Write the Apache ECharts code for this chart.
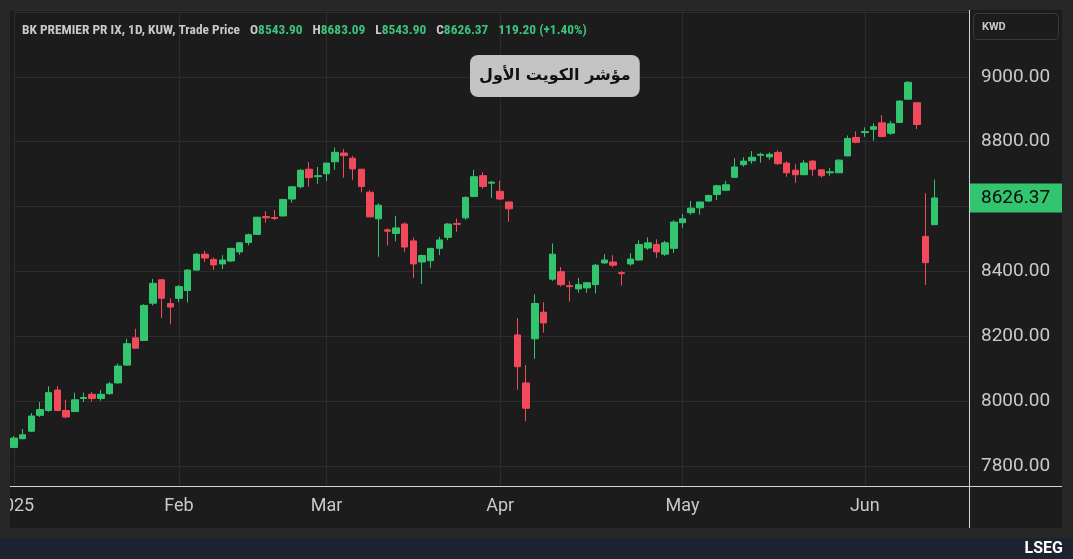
<!DOCTYPE html>
<html><head><meta charset="utf-8">
<script src="https://cdn.jsdelivr.net/npm/echarts@6/dist/echarts.min.js"></script>
<style>html,body{margin:0;padding:0;background:#272727;}#c{width:1073px;height:559px;}</style>
</head><body><div id="c"></div>
<script>
// ---- data ----
const opens  = [7857,7884,7907,7956,7971,8034,7971,7968,8008,8021,8008,8023,8056,8111,8195,8187,8302,8374,8301,
  8317,8341,8404,8453,8437,8423,8432,8460,8489,8514,8569,8566,8571,8623,8661,8715,8692,
  8701,8738,8765,8749,8715,8644,8562,8528,8517,8546,8494,8429,8433,8471,8505,8548,8565,8631,8695,8672,
  8647,8614,8204,8056,8192,8274,8376,8399,8356,8346,8349,8359,8426,8429,8396,8423,8435,8472,8483,8453,8471,
  8550,8581,8596,8617,8637,8650,8690,8729,8741,8758,8753,8767,8734,8712,8698,8740,8713,8704,8704,8756,8813,
  8828,8838,8858,8826,8859,8931,8920,8508,8543.90];
const closes = [7886,7896,7954,7974,8026,7971,7951,8004,8011,8008,8021,8053,8108,8177,8163,8295,8363,8317,8290,
  8353,8404,8453,8441,8420,8435,8471,8488,8513,8567,8565,8563,8622,8661,8712,8689,8695,
  8734,8767,8757,8716,8662,8568,8604,8524,8534,8475,8423,8449,8471,8497,8546,8545,8628,8692,8662,8675,
  8623,8593,8106,7978,8301,8241,8453,8359,8353,8359,8365,8419,8435,8419,8393,8438,8483,8488,8460,8488,8552,
  8562,8595,8614,8634,8664,8667,8722,8740,8752,8761,8761,8732,8704,8698,8734,8715,8695,8707,8743,8810,8798,
  8831,8846,8816,8855,8925,8983,8853,8427,8626.37];
const lows   = [7855,7882,7905,7951,7967,7969,7947,7966,7997,7999,8001,8020,8054,8109,8161,8185,8295,8256,8237,
  8305,8304,8402,8429,8404,8407,8429,8451,8480,8512,8550,8558,8569,8612,8656,8661,8670,
  8679,8713,8689,8682,8644,8568,8445,8480,8493,8460,8380,8361,8411,8450,8496,8522,8559,8631,8655,8626,
  8620,8553,8035,7938,8130,8211,8371,8353,8307,8334,8334,8332,8423,8413,8356,8417,8433,8466,8441,8448,8457,
  8534,8575,8575,8614,8620,8650,8690,8723,8732,8735,8744,8729,8692,8673,8698,8695,8689,8695,8704,8756,8795,
  8815,8803,8813,8821,8859,8931,8839,8358,8543.90];
const highs  = [7892,7914,7963,7997,8046,8046,8004,8026,8026,8028,8034,8059,8116,8192,8223,8299,8377,8377,8317,
  8358,8407,8456,8463,8443,8450,8472,8490,8517,8568,8586,8589,8623,8661,8715,8737,8722,
  8734,8782,8777,8756,8715,8650,8610,8533,8571,8551,8504,8452,8472,8507,8549,8563,8632,8713,8706,8679,
  8679,8616,8256,8111,8329,8305,8486,8413,8370,8380,8367,8423,8453,8450,8401,8456,8496,8505,8499,8494,8558,
  8577,8617,8614,8637,8667,8679,8749,8752,8771,8766,8767,8773,8739,8731,8743,8743,8713,8719,8746,8819,8832,
  8844,8856,8882,8864,8928,8987,8920,8641,8683.09];
const monthLabels   = ['2025','Feb','Mar','Apr','May','Jun'];
const monthStartIdx = [0,19,36,56,77,98];
const yTickValues   = [7800,8000,8200,8400,8600,8800,9000];
const headerName    = 'BK PREMIER PR IX, 1D, KUW, Trade Price';
const headerChange  = '119.20 (+1.40%)';
const chartTitle    = 'مؤشر الكويت الأول';
const currency      = 'KWD';
const emptySlots    = 4;

// ---- build ----
const n = opens.length;
const last = n - 1;
const categories = [];
for (let i = 0; i < n + emptySlots; i++) categories.push(String(i));
const candleData = opens.map((o, i) => [o, closes[i], lows[i], highs[i]]);
const monthMap = {};
monthStartIdx.forEach((idx, k) => { monthMap[idx] = monthLabels[k]; });
const fmt = v => Number(v).toFixed(2);

const GREEN = '#33c46f', RED = '#f2495c', TXT = '#c9c9c9', GRID = '#2c2c2c', FRAME = '#272727';
const FONT = 'Roboto, "Open Sans", sans-serif';
const HFONT = '"Liberation Sans Narrow", "Roboto Condensed", Roboto, sans-serif';

const chart = echarts.init(document.getElementById('c'), null, {renderer: 'canvas'});
chart.setOption({
  backgroundColor: '#1c1c1c',
  animation: false,
  title: [{
    left: 17, top: 17,
    text: `{n|${headerName}}  {n|O}{v|${fmt(opens[last])}}  {n|H}{v|${fmt(highs[last])}}  {n|L}{v|${fmt(lows[last])}}  {n|C}{v|${fmt(closes[last])}}  {v|${headerChange}}`,
    textStyle: {
      rich: {
        n: {color: TXT, fontSize: 13.4, fontFamily: HFONT},
        v: {color: '#3cc47c', fontSize: 13.4, fontFamily: HFONT}
      }
    }
  }, {
    text: chartTitle,
    left: 470, top: 55,
    backgroundColor: '#c4c4c4',
    borderRadius: 8,
    padding: [13, 9, 13, 9],
    textStyle: {color: '#111', fontSize: 16, fontWeight: 'bold', fontFamily: '"DejaVu Sans", sans-serif'}
  }],
  grid: {left: 14, right: 104, top: 10, bottom: 72.3, containLabel: false, outerBoundsMode: 'none'},
  xAxis: {
    type: 'category', data: categories, boundaryGap: false,
    axisLine: {show: false}, axisTick: {show: false},
    axisLabel: {
      interval: (i) => monthMap[i] !== undefined,
      formatter: (v) => monthMap[+v] || '',
      color: TXT, fontSize: 18, margin: 11, fontFamily: FONT
    },
    splitLine: {show: true, interval: (i) => monthMap[i] !== undefined, lineStyle: {color: GRID, width: 1}}
  },
  yAxis: {
    type: 'value', position: 'right', min: 7736, max: 9206, splitNumber: 7,
    axisLine: {show: false}, axisTick: {show: false},
    axisLabel: {
      formatter: (v) => yTickValues.indexOf(Math.round(v)) >= 0 ? fmt(v) : '',
      color: TXT, fontSize: 19, margin: 12, fontFamily: FONT
    },
    splitLine: {show: true, lineStyle: {color: GRID, width: 1}}
  },
  series: [{
    type: 'candlestick', data: candleData, barWidth: 7, clip: false,
    itemStyle: {color: GREEN, color0: RED, borderColor: GREEN, borderColor0: RED, borderWidth: 1},
    markLine: {
      symbol: 'none', silent: true,
      lineStyle: {color: 'rgba(0,0,0,0)', width: 0},
      data: [{yAxis: closes[last]}],
      label: {
        show: true, position: 'end', distance: 0,
        formatter: (p) => fmt(p.value),
        backgroundColor: GREEN, color: '#0b0b0b', fontSize: 19, fontFamily: FONT,
        padding: [5, 12, 5, 12]
      }
    }
  }],
  graphic: [
    {type: 'rect', z: 100, shape: {x: 0, y: 0, width: 10, height: 559}, style: {fill: FRAME}},
    {type: 'rect', z: 100, shape: {x: 0, y: 0, width: 1073, height: 10}, style: {fill: FRAME}},
    {type: 'rect', z: 100, shape: {x: 1062, y: 0, width: 11, height: 559}, style: {fill: FRAME}},
    {type: 'rect', z: 100, shape: {x: 0, y: 528, width: 1073, height: 10}, style: {fill: FRAME}},
    {type: 'rect', z: 100, shape: {x: 0, y: 538, width: 1073, height: 21}, style: {fill: '#1d2230'}},
    {type: 'line', z: 90, shape: {x1: 10, y1: 486.5, x2: 1062, y2: 486.5}, style: {stroke: '#d4d4d4', lineWidth: 1}},
    {type: 'line', z: 90, shape: {x1: 969.5, y1: 10, x2: 969.5, y2: 528}, style: {stroke: '#d4d4d4', lineWidth: 1}},
    {type: 'rect', z: 90, shape: {x: 973.5, y: 13.5, width: 85, height: 26, r: 4}, style: {fill: 'none', stroke: '#3a3a3a', lineWidth: 1}},
    {type: 'text', z: 91, style: {x: 982, y: 27, text: currency, fill: TXT, font: 'bold 11px ' + FONT, verticalAlign: 'middle'}},
    {type: 'text', z: 101, style: {x: 1063, y: 549, text: 'LSEG', fill: '#ffffff', font: 'bold 16px ' + FONT, align: 'right', verticalAlign: 'middle'}}
  ]
});
</script>
</body></html>
